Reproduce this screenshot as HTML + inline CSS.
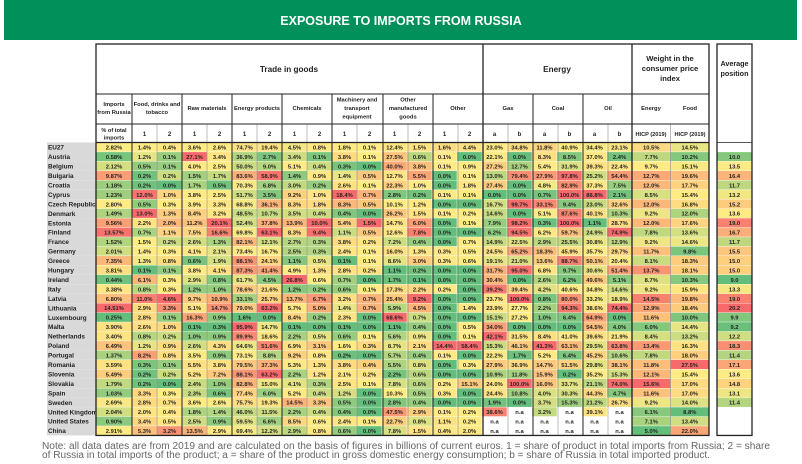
<!DOCTYPE html>
<html><head><meta charset="utf-8"><style>
html,body{margin:0;padding:0;background:#fff;width:802px;height:464px;overflow:hidden}
svg{display:block;font-family:"Liberation Sans Narrow","Liberation Sans",sans-serif}
</style></head><body>
<svg id="chart" width="802" height="464" viewBox="0 0 802 464" xmlns="http://www.w3.org/2000/svg">
<rect x="4" y="0" width="793" height="40" fill="#00905a"/>
<text x="401" y="25" text-anchor="middle" fill="#fff" font-size="12.5" font-weight="bold">EXPOSURE TO IMPORTS FROM RUSSIA</text>
<g id="grid"></g>
<text x="42" y="449" font-size="10" fill="#666" textLength="728" lengthAdjust="spacingAndGlyphs">Note: all data dates are from 2019 and are calculated on the basis of figures in billions of current euros. 1 = share of product in total imports from Russia; 2 = share</text>
<text x="42" y="458" font-size="10" fill="#666" textLength="668" lengthAdjust="spacingAndGlyphs">of Russia in total imports of the product; a = share of the product in gross domestic energy consumption; b = share of Russia in total imported product.</text>
</svg>
<script>
const countries=["EU27","Austria","Belgium","Bulgaria","Croatia","Cyprus","Czech Republic","Denmark","Estonia","Finland","France","Germany","Greece","Hungary","Ireland","Italy","Latvia","Lithuania","Luxembourg","Malta","Netherlands","Poland","Portugal","Romania","Slovenia","Slovakia","Spain","Sweden","United Kingdom","United States","China"];
const importsShare=[2.82,0.58,2.12,9.87,1.18,1.23,2.80,1.49,9.56,13.57,1.52,2.01,7.35,3.81,0.44,3.38,6.80,14.51,0.25,3.90,3.40,6.49,1.37,3.59,5.49,1.79,1.03,2.69,2.04,0.90,2.91];
const food1=[1.4,1.2,0.5,0.2,0.2,12.0,0.5,13.0,2.2,0.7,1.5,1.4,1.3,0.1,6.1,0.8,11.0,2.9,2.8,2.6,0.8,1.2,8.2,0.3,0.2,0.2,3.3,2.8,2.0,3.4,5.3];
const food2=[0.4,0.1,0.1,0.2,0.0,1.0,0.3,1.3,2.0,1.1,0.2,0.3,0.8,0.1,0.3,0.3,4.6,3.3,0.1,1.0,0.2,0.9,0.8,0.1,0.2,0.0,0.3,0.7,0.4,0.5,3.2];
const raw1=[3.6,27.1,4.0,1.5,1.7,3.8,3.9,8.4,11.2,7.5,2.6,4.1,0.6,3.8,2.9,1.2,9.7,5.1,16.3,0.1,1.0,2.6,3.5,5.5,5.2,2.4,2.3,3.6,1.8,2.5,13.5];
const raw2=[2.6,3.4,2.5,1.7,0.5,2.5,3.3,3.2,20.1,16.6,1.3,2.1,1.9,4.1,0.8,1.0,10.9,14.7,0.9,0.3,0.9,4.3,0.9,3.8,7.2,1.0,0.6,2.6,1.4,0.9,2.9];
const energy1=[74.7,36.9,50.0,83.6,70.3,51.7,68.8,48.5,52.4,69.8,82.1,73.4,88.1,87.3,61.7,78.6,33.1,79.0,1.6,95.9,89.9,64.6,73.1,79.5,88.1,82.8,77.4,75.7,46.0,59.5,69.4];
const energy2=[19.4,2.7,9.0,58.9,6.8,3.5,36.1,10.7,37.8,63.1,12.1,16.7,24.1,41.4,4.5,21.6,25.7,63.2,0.0,14.7,18.6,51.6,8.8,37.3,63.2,15.0,6.0,19.3,11.5,6.6,12.2];
const chem1=[4.5,3.4,5.1,1.4,3.0,9.2,8.3,3.5,13.9,8.3,2.7,2.5,1.1,4.9,26.8,1.2,13.7,5.7,8.4,0.1,2.2,6.9,9.2,5.3,2.2,4.1,5.2,14.5,2.2,8.5,2.9];
const chem2=[0.8,0.1,0.4,0.9,0.2,1.0,1.8,0.4,10.0,9.4,0.3,0.3,0.5,1.3,0.6,0.2,6.7,5.0,0.2,0.0,0.5,3.1,0.8,1.3,1.2,0.3,0.4,3.3,0.4,0.6,0.8];
const mach1=[1.8,3.8,0.3,1.4,2.6,18.4,8.3,0.4,5.4,1.1,3.8,2.4,0.1,2.8,0.7,0.6,3.2,1.4,2.3,0.1,0.6,1.6,0.2,3.8,2.1,2.5,1.2,0.5,0.4,2.4,0.6];
const mach2=[0.1,0.1,0.0,0.5,0.1,0.7,0.5,0.0,1.5,0.5,0.2,0.1,0.1,0.2,0.0,0.1,0.7,0.7,0.0,0.0,0.1,0.3,0.0,0.4,0.2,0.1,0.0,0.0,0.0,0.1,0.0];
const manuf1=[12.4,27.5,40.0,12.7,22.3,2.8,10.1,26.2,14.7,12.6,7.2,16.0,8.6,1.1,1.7,17.3,25.4,5.9,68.6,1.1,5.6,8.7,5.7,5.5,2.2,7.8,10.3,2.8,47.5,22.7,7.8];
const manuf2=[1.5,0.6,3.8,5.5,1.0,0.2,1.2,1.5,6.0,7.8,0.4,1.3,3.0,0.2,0.1,2.2,9.2,4.5,0.7,0.4,0.9,2.1,0.4,0.8,0.6,0.6,0.5,0.4,2.9,0.8,1.5];
const other1=[1.6,0.1,0.1,0.0,0.0,0.1,0.0,0.1,0.0,0.0,0.0,0.3,0.3,0.0,0.0,0.2,0.0,0.0,0.0,0.0,0.0,14.4,0.1,0.0,0.0,0.2,0.3,0.0,0.1,1.1,0.4];
const other2=[4.4,0.0,0.9,0.1,1.8,0.1,0.0,0.2,0.1,0.0,0.7,0.5,0.6,0.0,0.0,0.0,0.0,1.4,0.0,0.5,0.1,58.4,0.0,0.3,0.0,15.1,0.0,0.0,0.2,0.2,2.0];
const gasA=[23.0,22.1,27.2,13.0,27.4,0.0,16.7,14.6,7.9,6.2,14.9,24.5,19.1,31.7,30.4,39.2,23.7,23.9,15.1,34.0,42.1,15.3,22.2,27.9,10.9,24.0,24.4,1.9,38.6,null,null];
const gasB=[34.8,0.0,12.7,79.4,0.0,0.0,99.7,0.0,98.2,94.5,22.5,65.2,21.0,95.0,0.0,39.4,100.0,27.7,27.2,0.0,31.5,46.1,1.7,36.9,11.8,100.0,10.8,0.0,null,null,null];
const coalA=[11.8,8.3,5.4,27.9,4.8,0.7,33.1,5.1,0.3,6.2,2.9,18.3,13.6,6.8,2.6,4.2,0.8,2.2,1.0,0.0,8.4,41.3,5.2,14.7,15.9,16.0,4.0,3.7,3.2,null,null];
const coalB=[40.9,8.5,31.9,97.8,82.9,100.0,9.4,87.6,100.0,59.7,25.5,45.9,88.7,9.7,6.2,40.6,80.0,94.3,6.4,0.0,41.0,63.1,6.4,51.5,0.2,33.7,30.3,15.3,null,null,null];
const oilA=[34.4,37.0,39.3,25.2,37.3,88.8,23.0,40.1,1.1,24.9,30.8,35.7,50.1,30.6,49.6,34.8,33.2,38.6,64.9,54.5,39.6,29.5,45.2,29.8,35.2,21.1,44.3,21.2,39.1,null,null];
const oilB=[23.1,2.4,22.4,54.4,7.5,2.1,32.6,10.3,28.7,74.9,12.9,29.7,20.4,51.4,5.1,14.6,18.9,74.4,0.0,4.0,21.9,63.8,10.6,38.1,15.3,74.0,4.7,26.7,null,null,null];
const hicpEnergy=[10.5,7.7,9.7,12.7,12.0,8.5,12.0,9.2,12.0,7.8,9.2,11.7,8.1,13.7,8.7,9.2,14.5,12.9,11.6,6.0,8.4,13.4,7.8,11.8,12.1,15.6,11.6,9.2,6.1,7.1,5.0];
const hicpFood=[14.5,10.2,15.1,19.6,17.7,15.4,16.8,12.0,17.6,13.6,14.6,9.8,18.3,18.1,10.3,15.9,19.8,18.4,10.0,14.4,13.2,16.3,18.0,27.5,15.4,17.0,17.0,14.0,8.8,13.4,22.0];
const avgPosition=[null,10.0,13.5,16.4,11.7,13.2,15.2,13.6,19.0,16.7,11.7,15.5,15.0,15.0,9.0,13.3,19.0,20.2,9.9,9.2,12.2,18.3,11.4,17.1,13.6,14.8,13.1,11.4,null,null,null];

const columns=[importsShare,food1,food2,raw1,raw2,energy1,energy2,chem1,chem2,mach1,mach2,manuf1,manuf2,other1,other2,gasA,gasB,coalA,coalB,oilA,oilB,hicpEnergy,hicpFood];
const colNames=["imports-share","food-1","food-2","raw-1","raw-2","energy-1","energy-2","chemicals-1","chemicals-2","machinery-1","machinery-2","manufactured-1","manufactured-2","other-1","other-2","gas-a","gas-b","coal-a","coal-b","oil-a","oil-b","hicp-energy","hicp-food"];

const NS="http://www.w3.org/2000/svg";
const g=document.getElementById('grid');
function mk(tag,attrs,parent){const e=document.createElementNS(NS,tag);for(const k in attrs)e.setAttribute(k,attrs[k]);(parent||g).appendChild(e);return e;}
function txt(x,y,s,opt,parent){const t=mk('text',Object.assign({x:x,y:y,'text-anchor':'middle','font-size':6.2,'font-weight':'bold',fill:'#222'},opt||{}),parent);t.textContent=s;return t;}

// column x positions
const colX=[96,132];
for(let i=0;i<20;i++)colX.push(132+(i+1)*25);
colX.push(670.5,709);
const rowTop=142.5,rowH=9.45;
function rowY(i){return rowTop+i*rowH;}

function lerp(a,b,t){return Math.round(a+(b-a)*t);}
const G=[99,190,123],Y=[255,235,132],R=[248,105,107];
function colorScale(vals){
  const v=vals.filter(x=>x!==null).slice().sort((a,b)=>a-b);
  const mn=v[0],mx=v[v.length-1];
  const n=v.length,p=(n-1)*0.5,lo=Math.floor(p),hi=Math.ceil(p);
  const md=v[lo]+(v[hi]-v[lo])*(p-lo);
  return function(x){
    let c;
    if(x<=md){const t=md===mn?0:(x-mn)/(md-mn);c=G.map((a,k)=>lerp(a,Y[k],t));}
    else{const t=mx===md?1:(x-md)/(mx-md);c=Y.map((a,k)=>lerp(a,R[k],t));}
    return 'rgb('+c.join(',')+')';
  };
}
function fmt(v,ci){if(v===null)return 'n.a';return ci===0?v.toFixed(2)+'%':v.toFixed(1)+'%';}

// country labels
countries.forEach((c,i)=>{
  const r=mk('rect',{x:47,y:rowY(i),width:49,height:rowH,fill:'#d9d9d9'});
  
  
  const t=txt(48,rowY(i)+rowH-2.3,c,{'text-anchor':'start','font-size':6.4});
  
  
});

// heatmap cells
columns.forEach((vals,ci)=>{
  const sc=colorScale(vals);
  const x0=colX[ci],w=colX[ci+1]-colX[ci];
  vals.forEach((v,ri)=>{
    const cell=mk('rect',{x:x0,y:rowY(ri),width:w,height:rowH,fill:v===null?'#ffffff':sc(v),stroke:'#ffffff','stroke-width':0.3});
    
    
    const t=txt(x0+w/2,rowY(ri)+rowH-2.4,fmt(v,ci),{'font-size':5.8});
    
    
  });
});
// avg position column
(function(){
  const sc=colorScale(avgPosition);
  avgPosition.forEach((v,ri)=>{
    if(v===null)return;
    const cell=mk('rect',{x:717,y:rowY(ri),width:35,height:rowH,fill:sc(v),stroke:'#fff','stroke-width':0.3});
    
    
    const t=txt(734.5,rowY(ri)+rowH-2.4,v.toFixed(1),{'font-size':5.8});
    
    
  });
})();

const tableBottom=rowY(countries.length);
// header lines
const hdr=mk('g',{stroke:'#222',fill:'none'});


mk('rect',{x:96,y:44,width:613,height:tableBottom-44,'stroke-width':1.3},hdr);
mk('rect',{x:717,y:44,width:35,height:tableBottom-44,'stroke-width':1.3},hdr);
mk('line',{x1:717,x2:752,y1:142.5,y2:142.5,'stroke-width':0.8},hdr);
mk('line',{x1:96,x2:709,y1:94,y2:94,'stroke-width':1},hdr);
mk('line',{x1:96,x2:709,y1:124,y2:124,'stroke-width':1},hdr);
mk('line',{x1:96,x2:709,y1:142.5,y2:142.5,'stroke-width':1.2},hdr);
// group vertical lines
[483,632].forEach(x=>mk('line',{x1:x,x2:x,y1:44,y2:tableBottom,'stroke-width':1.3},hdr));
[132,182,232,282,332,383,433,533,583].forEach(x=>mk('line',{x1:x,x2:x,y1:94,y2:tableBottom,'stroke-width':1},hdr));
[157,207,257,307,357,408,458,508,558,608,670.5].forEach(x=>mk('line',{x1:x,x2:x,y1:124,y2:tableBottom,'stroke':'#555','stroke-width':0.4},hdr));

// header text
txt(289,72,'Trade in goods',{'font-size':8.2,'font-weight':'bold'});
txt(557,72,'Energy',{'font-size':8.2});
txt(670,61,'Weight in the',{'font-size':7.6});
txt(670,71,'consumer price',{'font-size':7.6});
txt(670,81,'index',{'font-size':7.6});
txt(734.5,66,'Average',{'font-size':7.2});
txt(734.5,76,'position',{'font-size':7.2});
const sub=[[114,['Imports','from Russia']],[157,['Food, drinks and','tobacco']],[207,['Raw materials']],[257,['Energy products']],[307,['Chemicals']],[357,['Machinery and','transport','equipment']],[408,['Other','manufactured','goods']],[458,['Other']],[508,['Gas']],[558,['Coal']],[608,['Oil']],[651,['Energy']],[690,['Food']]];
sub.forEach(([x,lines])=>{
  const y0=110-(lines.length-1)*4.2;
  lines.forEach((l,k)=>{const t=txt(x,y0+k*8.4,l,{'font-size':5.8});});
});
txt(114,132,'% of total',{'font-size':5.6});
txt(114,139.5,'imports',{'font-size':5.6});
const lab=['1','2','1','2','1','2','1','2','1','2','1','2','1','2','a','b','a','b','a','b'];
lab.forEach((l,k)=>{const x=132+k*25+12.5;const t=txt(x,136,l,{'font-size':6});});
txt(651,136,'HICP (2019)',{'font-size':5.6});
txt(690,136,'HICP (2019)',{'font-size':5.6});
</script>
</body></html>
